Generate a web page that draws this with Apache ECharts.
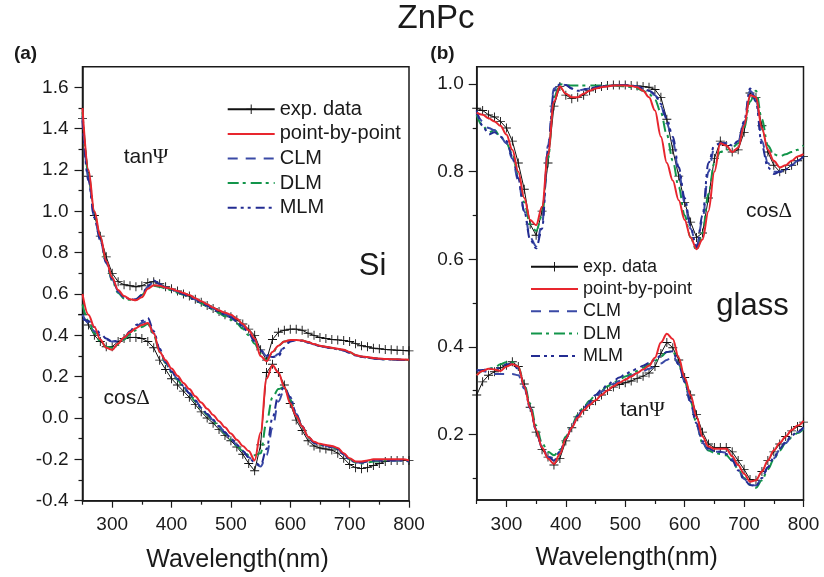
<!DOCTYPE html>
<html>
<head>
<meta charset="utf-8">
<script src="https://cdn.jsdelivr.net/npm/echarts@6/dist/echarts.min.js"></script>
<style>
  html, body { margin: 0; padding: 0; background: #fff; }
  #chart { width: 824px; height: 577px; }
</style>
</head>
<body>
<div id="chart"></div>
<script>
  // wavelength grid (nm), shared by every curve
  const WL = [250,260,270,280,290,300,310,320,330,340,350,360,370,380,390,400,410,420,430,440,
    450,460,470,480,490,500,510,520,530,540,550,560,570,580,590,600,610,620,630,640,
    650,660,670,680,690,700,710,720,730,740,750,760,770,780,790,800];

  // (a) ZnPc on Si
  const siTanExp = [1.45,1.17,0.98,0.88,0.78,0.70,0.66,0.645,0.64,0.635, 0.64,0.655,0.66,0.65,0.635,0.625,0.615,0.60,0.59,0.575,
    0.56,0.545,0.53,0.515,0.50,0.49,0.475,0.455,0.43,0.40, 0.33,0.28,0.38,0.415,0.425,0.43,0.43,0.425,0.41,0.40,
    0.39,0.385,0.38,0.378,0.375,0.37,0.36,0.35,0.345,0.338, 0.335,0.332,0.33,0.328,0.327,0.325];
  const siTanPbp = [1.50,1.20,1.00,0.88,0.76,0.68,0.62,0.59,0.575,0.57, 0.585,0.625,0.643,0.64,0.632,0.625,0.615,0.605,0.595,0.58,
    0.565,0.55,0.535,0.52,0.51,0.50,0.48,0.455,0.425,0.385, 0.30,0.275,0.32,0.35,0.37,0.378,0.378,0.375,0.368,0.358,
    0.35,0.345,0.34,0.335,0.33,0.32,0.305,0.298,0.295,0.29, 0.288,0.286,0.285,0.284,0.283,0.282];
  const siTanClm = [1.46,1.16,0.97,0.86,0.75,0.67,0.61,0.585,0.575,0.572, 0.59,0.635,0.66,0.645,0.632,0.622,0.612,0.60,0.588,0.574,
    0.56,0.545,0.53,0.515,0.503,0.49,0.47,0.445,0.415,0.375, 0.33,0.30,0.29,0.31,0.35,0.372,0.377,0.374,0.366,0.356,
    0.348,0.343,0.338,0.333,0.327,0.316,0.303,0.296,0.292,0.288, 0.286,0.284,0.283,0.282,0.281,0.28];
  const siTanDlm = [1.48,1.18,0.99,0.87,0.755,0.665,0.605,0.578,0.572,0.575, 0.595,0.628,0.64,0.635,0.627,0.618,0.607,0.596,0.584,0.57,
    0.555,0.54,0.524,0.508,0.492,0.476,0.458,0.432,0.40,0.36, 0.31,0.28,0.315,0.35,0.37,0.377,0.378,0.375,0.367,0.357,
    0.349,0.344,0.339,0.334,0.328,0.318,0.305,0.297,0.293,0.289, 0.287,0.285,0.284,0.283,0.282,0.281];
  const siTanMlm = [1.44,1.15,0.97,0.86,0.755,0.675,0.615,0.585,0.575,0.575, 0.595,0.64,0.665,0.648,0.633,0.622,0.611,0.599,0.586,0.572,
    0.558,0.543,0.528,0.513,0.50,0.487,0.467,0.442,0.41,0.37, 0.325,0.305,0.295,0.30,0.34,0.37,0.377,0.374,0.366,0.356,
    0.348,0.343,0.338,0.333,0.327,0.316,0.303,0.296,0.292,0.288, 0.286,0.284,0.283,0.282,0.281,0.28];

  const siCosExp = [0.50,0.45,0.40,0.37,0.345,0.345,0.37,0.385,0.39,0.39, 0.385,0.37,0.34,0.28,0.235,0.19,0.16,0.13,0.10,0.065,
    0.03,0.0,-0.025,-0.055,-0.085,-0.11,-0.14,-0.175,-0.22,-0.255, -0.13,0.22,0.26,0.22,0.16,0.07,-0.01,-0.06,-0.11,-0.135,
    -0.145,-0.15,-0.155,-0.17,-0.195,-0.225,-0.24,-0.245,-0.24,-0.23, -0.22,-0.21,-0.205,-0.205,-0.205,-0.205];
  const siCosPbp = [0.60,0.50,0.44,0.38,0.34,0.33,0.36,0.39,0.415,0.435, 0.45,0.46,0.41,0.32,0.28,0.24,0.205,0.17,0.14,0.105,
    0.075,0.045,0.015,-0.015,-0.045,-0.075,-0.105,-0.135,-0.16,-0.205, -0.07,0.19,0.255,0.22,0.15,0.07,0.01,-0.04,-0.09,-0.115,
    -0.125,-0.13,-0.135,-0.145,-0.17,-0.195,-0.21,-0.21,-0.205,-0.2, -0.2,-0.2,-0.2,-0.2,-0.2,-0.205];
  const siCosClm = [0.50,0.46,0.42,0.40,0.38,0.37,0.375,0.39,0.415,0.44, 0.46,0.47,0.41,0.33,0.27,0.225,0.19,0.155,0.12,0.085,
    0.05,0.02,-0.01,-0.04,-0.07,-0.10,-0.13,-0.16,-0.19,-0.22, -0.235,-0.18,-0.05,0.08,0.14,0.10,0.02,-0.04,-0.09,-0.12,
    -0.13,-0.135,-0.14,-0.15,-0.175,-0.20,-0.215,-0.215,-0.21,-0.205, -0.205,-0.205,-0.205,-0.205,-0.205,-0.21];
  const siCosDlm = [0.55,0.47,0.41,0.37,0.345,0.34,0.355,0.38,0.405,0.425, 0.44,0.455,0.40,0.32,0.265,0.22,0.185,0.15,0.115,0.08,
    0.045,0.015,-0.015,-0.045,-0.075,-0.105,-0.135,-0.16,-0.18,-0.18, -0.17,-0.02,0.10,0.14,0.15,0.09,0.015,-0.04,-0.09,-0.12,
    -0.13,-0.135,-0.14,-0.15,-0.175,-0.20,-0.215,-0.22,-0.215,-0.21, -0.21,-0.205,-0.205,-0.205,-0.205,-0.21];
  const siCosMlm = [0.48,0.47,0.44,0.41,0.385,0.37,0.37,0.385,0.42,0.45, 0.47,0.485,0.42,0.335,0.27,0.225,0.19,0.155,0.12,0.085,
    0.05,0.02,-0.01,-0.04,-0.07,-0.10,-0.13,-0.16,-0.19,-0.215, -0.23,-0.15,0.0,0.11,0.15,0.10,0.02,-0.04,-0.09,-0.12,
    -0.13,-0.135,-0.14,-0.15,-0.175,-0.20,-0.215,-0.215,-0.21,-0.205, -0.205,-0.205,-0.205,-0.205,-0.205,-0.21];

  // (b) ZnPc on glass
  const glCosExp = [0.945,0.94,0.93,0.925,0.915,0.90,0.87,0.82,0.76,0.68, 0.655,0.71,0.82,0.95,0.995,0.975,0.967,0.97,0.975,0.985,
    0.99,0.995,0.997,0.998,0.998,0.998,0.997,0.996,0.995,0.993, 0.988,0.97,0.92,0.85,0.79,0.73,0.685,0.65,0.66,0.74,
    0.83,0.87,0.86,0.845,0.85,0.89,0.98,0.97,0.905,0.845, 0.815,0.80,0.805,0.815,0.825,0.835];
  const glCosPbp = [0.935,0.93,0.922,0.915,0.905,0.885,0.85,0.80,0.74,0.69, 0.678,0.72,0.84,0.96,0.995,0.978,0.97,0.97,0.978,0.985,
    0.99,0.993,0.995,0.997,0.997,0.997,0.996,0.993,0.985,0.97, 0.94,0.88,0.82,0.78,0.735,0.69,0.65,0.623,0.645,0.71,
    0.80,0.865,0.86,0.845,0.855,0.905,0.975,0.97,0.90,0.85, 0.825,0.81,0.815,0.825,0.835,0.84];
  const glCosClm = [0.935,0.915,0.90,0.895,0.88,0.865,0.83,0.78,0.71,0.65, 0.63,0.68,0.86,0.99,1.0,0.998,0.99,0.985,0.988,0.99,
    0.993,0.995,0.996,0.997,0.998,0.998,0.997,0.995,0.99,0.985, 0.975,0.95,0.91,0.87,0.80,0.73,0.67,0.63,0.69,0.80,
    0.855,0.865,0.865,0.86,0.87,0.91,0.985,0.97,0.87,0.82, 0.80,0.80,0.805,0.815,0.825,0.835];
  const glCosDlm = [0.93,0.905,0.89,0.895,0.88,0.865,0.84,0.79,0.73,0.68, 0.665,0.70,0.83,0.97,1.0,0.998,0.997,0.997,0.997,0.997,
    0.997,0.997,0.997,0.997,0.996,0.995,0.993,0.99,0.985,0.978, 0.965,0.935,0.885,0.825,0.765,0.70,0.65,0.62,0.66,0.75,
    0.82,0.845,0.85,0.855,0.865,0.90,0.96,0.985,0.92,0.86, 0.84,0.835,0.84,0.845,0.85,0.86];
  const glCosMlm = [0.94,0.905,0.885,0.89,0.88,0.87,0.835,0.785,0.71,0.645, 0.625,0.67,0.85,0.985,1.0,0.998,0.99,0.985,0.988,0.99,
    0.993,0.995,0.996,0.997,0.998,0.998,0.997,0.995,0.99,0.985, 0.978,0.955,0.92,0.88,0.81,0.74,0.675,0.625,0.70,0.82,
    0.86,0.865,0.865,0.86,0.87,0.915,0.99,0.96,0.86,0.81, 0.795,0.80,0.805,0.815,0.825,0.835];

  const glTanExp = [0.29,0.32,0.335,0.343,0.352,0.358,0.366,0.355,0.315,0.262, 0.205,0.165,0.148,0.13,0.145,0.185,0.215,0.24,0.255,0.268,
    0.277,0.29,0.30,0.308,0.314,0.318,0.322,0.328,0.333,0.34, 0.355,0.385,0.41,0.398,0.37,0.33,0.29,0.245,0.205,0.178,
    0.17,0.17,0.17,0.16,0.14,0.12,0.097,0.095,0.115,0.14, 0.16,0.178,0.195,0.208,0.218,0.228];
  const glTanPbp = [0.335,0.345,0.35,0.348,0.345,0.355,0.36,0.355,0.31,0.26, 0.21,0.17,0.145,0.132,0.155,0.19,0.215,0.238,0.255,0.267,
    0.278,0.29,0.30,0.31,0.318,0.325,0.332,0.34,0.348,0.357, 0.375,0.41,0.43,0.418,0.375,0.33,0.29,0.24,0.195,0.172,
    0.167,0.167,0.167,0.15,0.13,0.11,0.092,0.095,0.115,0.14, 0.163,0.18,0.195,0.21,0.22,0.231];
  const glTanClm = [0.348,0.345,0.342,0.338,0.338,0.338,0.338,0.335,0.305,0.26, 0.21,0.17,0.148,0.145,0.16,0.19,0.215,0.24,0.258,0.272,
    0.285,0.297,0.308,0.315,0.322,0.328,0.334,0.34,0.345,0.35, 0.355,0.362,0.37,0.38,0.36,0.32,0.27,0.22,0.18,0.165,
    0.16,0.16,0.158,0.145,0.12,0.098,0.085,0.083,0.10,0.125, 0.145,0.165,0.18,0.195,0.205,0.215];
  const glTanDlm = [0.335,0.345,0.35,0.352,0.36,0.365,0.365,0.355,0.315,0.27, 0.22,0.18,0.16,0.152,0.165,0.195,0.22,0.245,0.262,0.277,
    0.29,0.30,0.31,0.318,0.325,0.332,0.338,0.345,0.352,0.36, 0.368,0.378,0.388,0.39,0.36,0.32,0.275,0.225,0.18,0.163,
    0.158,0.155,0.152,0.14,0.12,0.10,0.085,0.078,0.095,0.12, 0.143,0.163,0.18,0.193,0.203,0.212];
  const glTanMlm = [0.345,0.347,0.35,0.35,0.352,0.36,0.36,0.35,0.31,0.26, 0.21,0.17,0.15,0.14,0.16,0.19,0.218,0.242,0.26,0.275,
    0.29,0.302,0.313,0.322,0.33,0.337,0.344,0.35,0.357,0.363, 0.37,0.38,0.388,0.39,0.36,0.32,0.275,0.225,0.185,0.168,
    0.162,0.16,0.155,0.14,0.118,0.097,0.084,0.082,0.10,0.125, 0.147,0.167,0.183,0.197,0.207,0.216];

  // tick values
  const xMajor = [300, 400, 500, 600, 700, 800];
  const xMinor = [250, 350, 450, 550, 650, 750];
  const siYMajor = [-0.4, -0.2, 0, 0.2, 0.4, 0.6, 0.8, 1.0, 1.2, 1.4, 1.6];
  const siYMinor = [-0.3, -0.1, 0.1, 0.3, 0.5, 0.7, 0.9, 1.1, 1.3, 1.5];
  const glYMajor = [0.2, 0.4, 0.6, 0.8, 1.0];
  const glYMinor = [0.1, 0.3, 0.5, 0.7, 0.9];

  const NAMES = ['exp. data', 'point-by-point', 'CLM', 'DLM', 'MLM'];

  const FONT = 'Liberation Sans, Arial, Helvetica, sans-serif';
  const INK = '#1a1a1a';
  const PLUS = 'path://M4.5,0H5.5V4.5H10V5.5H5.5V10H4.5V5.5H0V4.5H4.5Z';

  const styles = {
    'exp. data': { color: '#111', width: 1, type: 'solid', z: 2 },
    'point-by-point': { color: '#e8262e', width: 2, type: 'solid', z: 6 },
    'CLM': { color: '#3a4aa6', width: 2, type: [10, 8], z: 4 },
    'DLM': { color: '#12954a', width: 2, type: [11, 4, 3, 5], z: 3 },
    'MLM': { color: '#232c92', width: 2, type: [9, 4, 3, 4, 3, 5], z: 5 },
  };

  function pairs(ys) {
    return WL.map((w, i) => [w, ys[i]]);
  }

  function line(name, ys, g) {
    const s = styles[name];
    const exp = name === 'exp. data';
    return {
      type: 'line',
      name,
      xAxisIndex: g * 2,
      yAxisIndex: g * 2,
      data: pairs(ys),
      smooth: exp ? false : 0.35,
      smoothMonotone: 'x',
      symbol: exp ? PLUS : 'none',
      symbolSize: 9,
      showSymbol: exp,
      z: s.z,
      itemStyle: { color: s.color },
      lineStyle: { color: s.color, width: s.width, type: s.type },
      emphasis: { disabled: true },
      animation: false,
    };
  }

  const sets = [
    [siTanExp, siTanPbp, siTanClm, siTanDlm, siTanMlm],
    [siCosExp, siCosPbp, siCosClm, siCosDlm, siCosMlm],
    [glCosExp, glCosPbp, glCosClm, glCosDlm, glCosMlm],
    [glTanExp, glTanPbp, glTanClm, glTanDlm, glTanMlm],
  ];
  const series = [];
  sets.forEach((set, k) => {
    const g = k < 2 ? 0 : 1;
    set.forEach((ys, j) => series.push(line(NAMES[j], ys, g)));
  });

  function xAxes(g) {
    return [
      {
        type: 'value', gridIndex: g, min: 250, max: 800, position: 'bottom',
        axisLine: { show: true, onZero: false, lineStyle: { color: INK, width: 1.5 } },
        axisTick: { show: true, customValues: xMajor, length: 7, lineStyle: { color: INK, width: 1.2 } },
        axisLabel: { customValues: xMajor, color: INK, fontSize: 19, fontFamily: FONT, margin: 15 },
        splitLine: { show: false },
      },
      {
        type: 'value', gridIndex: g, min: 250, max: 800, position: 'bottom',
        axisLine: { show: false, onZero: false },
        axisTick: { show: true, customValues: xMinor, length: 4, lineStyle: { color: INK, width: 1.2 } },
        axisLabel: { show: false },
        splitLine: { show: false },
      },
    ];
  }

  function yAxes(g, min, max, major, minor, margin) {
    return [
      {
        type: 'value', gridIndex: g, min, max, position: 'left',
        axisLine: { show: true, onZero: false, lineStyle: { color: INK, width: 1.5 } },
        axisTick: { show: true, customValues: major, length: 8, lineStyle: { color: INK, width: 1.2 } },
        axisLabel: {
          customValues: major, color: INK, fontSize: 19, fontFamily: FONT, margin,
          formatter: v => v.toFixed(1),
        },
        splitLine: { show: false },
      },
      {
        type: 'value', gridIndex: g, min, max, position: 'left',
        axisLine: { show: false, onZero: false },
        axisTick: { show: true, customValues: minor, length: 4, lineStyle: { color: INK, width: 1.2 } },
        axisLabel: { show: false },
        splitLine: { show: false },
      },
    ];
  }

  // model curves have no symbol: hide the default circle in their legend icon
  const legendData = NAMES.map(n => n === 'exp. data'
    ? { name: n }
    : { name: n, itemStyle: { opacity: 0 } });

  function legend(left, top, fontSize, rowH) {
    return {
      data: legendData,
      orient: 'vertical',
      left, top,
      padding: 0,
      itemWidth: 47,
      itemHeight: 12,
      itemGap: rowH - fontSize,
      selectedMode: false,
      textStyle: { color: INK, fontSize, fontFamily: FONT, lineHeight: fontSize },
    };
  }

  function label(text, x, y, size, extra) {
    return {
      type: 'text', x, y, z: 100,
      style: Object.assign({
        text, fill: INK, font: size + 'px ' + FONT, align: 'center', verticalAlign: 'middle',
      }, extra || {}),
    };
  }

  // "tan" + serif Psi, "cos" + Delta
  function greek(prefix, letter, x, y, size) {
    return {
      type: 'text', x, y, z: 100,
      style: {
        text: '{a|' + prefix + '}{b|' + letter + '}',
        align: 'center', verticalAlign: 'middle',
        rich: {
          a: { fill: INK, fontSize: size, fontFamily: FONT },
          b: { fill: INK, fontSize: size, fontFamily: 'Liberation Serif, DejaVu Serif, serif' },
        },
      },
    };
  }

  const chart = echarts.init(document.getElementById('chart'), null, { renderer: 'canvas' });
  chart.setOption({
    animation: false,
    backgroundColor: '#fff',
    grid: [
      { left: 82.5, top: 66.7, width: 326.5, height: 434, show: true, borderColor: INK, borderWidth: 1.5 },
      { left: 476.7, top: 66.7, width: 326.8, height: 433.3, show: true, borderColor: INK, borderWidth: 1.5 },
    ],
    xAxis: [...xAxes(0), ...xAxes(1)],
    yAxis: [
      ...yAxes(0, -0.4, 1.7, siYMajor, siYMinor, 14),
      ...yAxes(1, 0.05, 1.04, glYMajor, glYMinor, 13),
    ],
    legend: [legend(226.7, 99.3, 20, 24.6), legend(530, 257.7, 18, 22.3)],
    series,
    graphic: [
      label('ZnPc', 436, 19, 33),
      label('(a)', 25.5, 54, 19, { font: 'bold 19px ' + FONT }),
      label('(b)', 442.5, 53.5, 19, { font: 'bold 19px ' + FONT }),
      label('Wavelength(nm)', 237.5, 560, 25),
      label('Wavelength(nm)', 626.7, 558, 25),
      label('Si', 372.5, 266, 31),
      label('glass', 752.5, 306, 31),
      greek('tan', 'Ψ', 146, 157, 21),
      greek('cos', 'Δ', 126.7, 398, 21),
      greek('cos', 'Δ', 769, 211, 21),
      greek('tan', 'Ψ', 642.5, 410, 21),
    ],
  });
</script>
</body>
</html>
